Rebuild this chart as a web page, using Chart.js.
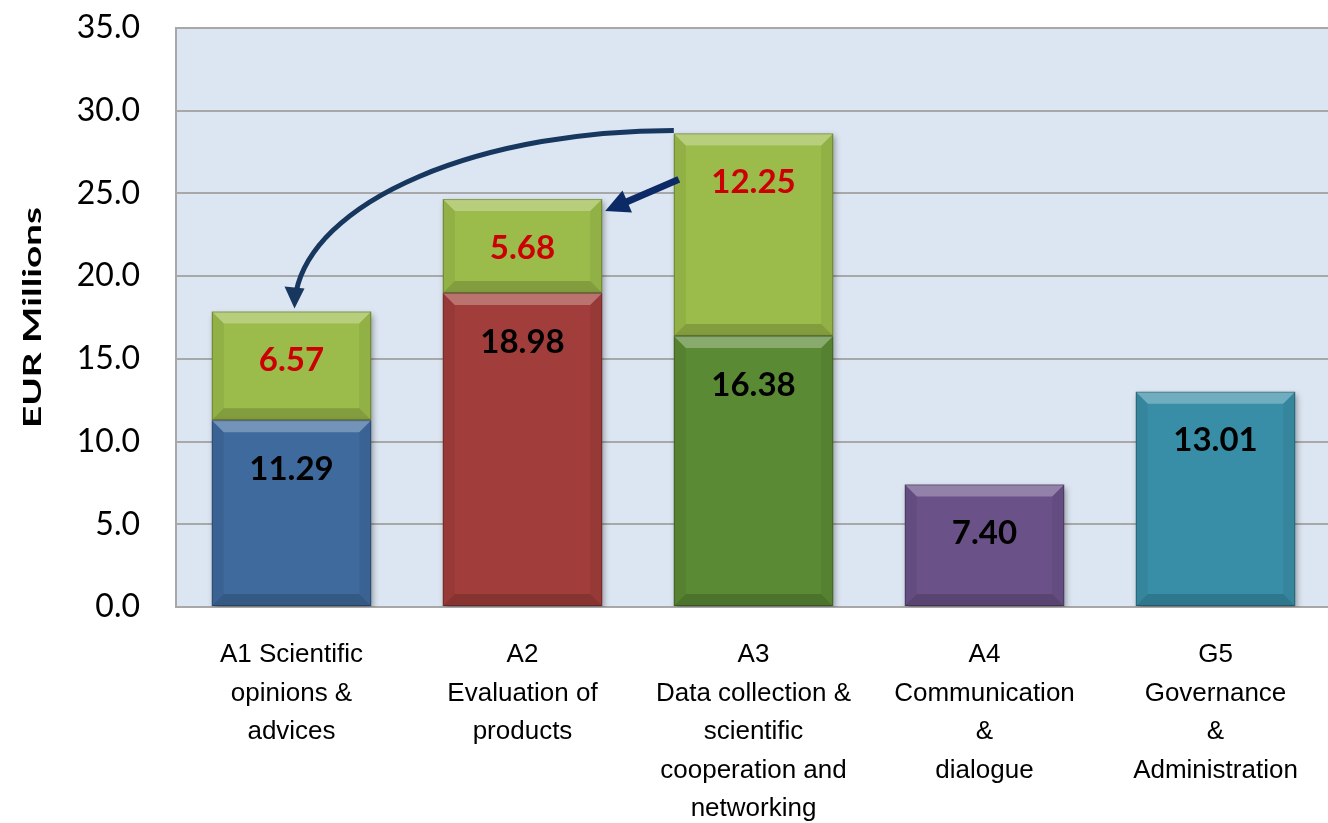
<!DOCTYPE html>
<html>
<head>
<meta charset="utf-8">
<script src="https://cdn.jsdelivr.net/npm/chart.js@4/dist/chart.umd.min.js"></script>
<style>
html,body{margin:0;padding:0;background:#fff;overflow:hidden;}
#wrap{width:1332px;height:823px;}
</style>
</head>
<body>
<div id="wrap"><canvas id="c" width="1332" height="823"></canvas></div>
<script>
// ---- data ----
const categories = [
  ["A1 Scientific","opinions &","advices"],
  ["A2","Evaluation of","products"],
  ["A3","Data collection &","scientific","cooperation and","networking"],
  ["A4","Communication","&","dialogue"],
  ["G5","Governance","&","Administration"]
];
const baseValues  = [11.29, 18.98, 16.38, 7.40, 13.01];
const addedValues = [6.57, 5.68, 12.25, null, null];
const yMin = 0, yMax = 35, yStep = 5;
const yTitle = "EUR Millions";

// ---- styles ----
const baseColors  = ["#3e6a9d", "#a13d3a", "#5b8a34", "#6a5188", "#398ea7"];
const addedColor  = "#9bbb4a";
const plotBg = "#dce6f2";
const gridColor = "#a8a8a8";
const arrowColor = "#17375e";

const bgPlugin = {
  id: 'bg',
  beforeDraw(chart) {
    const {ctx, chartArea: a} = chart;
    ctx.save();
    ctx.fillStyle = plotBg;
    ctx.fillRect(a.left, a.top, a.right - a.left, a.bottom - a.top);
    ctx.restore();
  }
};

const shadowPlugin = {
  id: 'shadow',
  beforeDatasetsDraw(chart) {
    const ctx = chart.ctx;
    ctx.save();
    ctx.shadowColor = 'rgba(0,0,0,0.35)';
    ctx.shadowBlur = 6;
    ctx.shadowOffsetX = 2;
    ctx.shadowOffsetY = 3;
  },
  afterDatasetsDraw(chart) {
    chart.ctx.restore();
  }
};

function bevel(ctx, el) {
  const l = el.x - el.width / 2, r = el.x + el.width / 2;
  const t = Math.min(el.y, el.base), b = Math.max(el.y, el.base);
  const bw = Math.min(12, (b - t) / 3);
  ctx.save();
  ctx.fillStyle = 'rgba(255,255,255,0.28)';
  ctx.beginPath(); ctx.moveTo(l, t); ctx.lineTo(r, t); ctx.lineTo(r - bw, t + bw); ctx.lineTo(l + bw, t + bw); ctx.closePath(); ctx.fill();
  ctx.fillStyle = 'rgba(0,0,0,0.16)';
  ctx.beginPath(); ctx.moveTo(l, b); ctx.lineTo(r, b); ctx.lineTo(r - bw, b - bw); ctx.lineTo(l + bw, b - bw); ctx.closePath(); ctx.fill();
  ctx.fillStyle = 'rgba(0,0,0,0.06)';
  ctx.beginPath(); ctx.moveTo(l, t); ctx.lineTo(l + bw, t + bw); ctx.lineTo(l + bw, b - bw); ctx.lineTo(l, b); ctx.closePath(); ctx.fill();
  ctx.beginPath(); ctx.moveTo(r, t); ctx.lineTo(r - bw, t + bw); ctx.lineTo(r - bw, b - bw); ctx.lineTo(r, b); ctx.closePath(); ctx.fill();
  ctx.strokeStyle = 'rgba(0,0,0,0.25)';
  ctx.lineWidth = 1;
  ctx.strokeRect(l + 0.5, t + 0.5, r - l - 1, b - t - 1);
  ctx.restore();
}

const decoPlugin = {
  id: 'deco',
  afterDatasetsDraw(chart) {
    const ctx = chart.ctx;
    chart.data.datasets.forEach((ds, di) => {
      const meta = chart.getDatasetMeta(di);
      meta.data.forEach((el, i) => {
        const v = ds.data[i];
        if (v == null) return;
        bevel(ctx, el);
        ctx.save();
        ctx.font = 'bold 33px Lato';
        ctx.textAlign = 'center';
        ctx.textBaseline = 'middle';
        ctx.fillStyle = di === 0 ? '#000000' : '#cc0000';
        ctx.fillText(v.toFixed(2), el.x, Math.min(el.y, el.base) + 49);
        ctx.restore();
      });
    });
    // arrows (annotations), placed relative to bar elements
    const top = chart.getDatasetMeta(1).data;
    const a1 = top[0], a2 = top[1], a3 = top[2];
    const a3left = a3.x - a3.width / 2;
    const a2right = a2.x + a2.width / 2;
    ctx.save();
    ctx.strokeStyle = arrowColor;
    ctx.fillStyle = arrowColor;
    // curved arrow A3 -> A1 (quarter ellipse)
    const tipX = a1.x + 3, tipY = a1.y - 3;
    const cx = a3left, cy = tipY;
    const rx = cx - tipX, ry = cy - (a3.y - 3);
    const stop = 17;
    ctx.lineWidth = 5;
    ctx.beginPath();
    ctx.ellipse(cx, cy, rx, ry, 0, -Math.PI / 2, -Math.PI + Math.asin(stop / ry), true);
    ctx.stroke();
    ctx.beginPath();
    ctx.moveTo(tipX, tipY);
    ctx.lineTo(tipX - 10, tipY - 22);
    ctx.lineTo(tipX + 10, tipY - 20);
    ctx.closePath();
    ctx.fill();
    // straight arrow A3 -> A2
    const sx = a3left + 5, sy = a3.y + 46;
    const ex = a2right + 3, ey = a2.y + 12;
    const dx = ex - sx, dy = ey - sy, len = Math.hypot(dx, dy);
    const ux = dx / len, uy = dy / len;
    ctx.strokeStyle = '#0c2a66';
    ctx.fillStyle = '#0c2a66';
    ctx.lineWidth = 7;
    ctx.beginPath();
    ctx.moveTo(sx, sy);
    ctx.lineTo(ex - ux * 18, ey - uy * 18);
    ctx.stroke();
    ctx.beginPath();
    ctx.moveTo(ex, ey);
    ctx.lineTo(ex - ux * 24 - uy * 12, ey - uy * 24 + ux * 12);
    ctx.lineTo(ex - ux * 24 + uy * 12, ey - uy * 24 - ux * 12);
    ctx.closePath();
    ctx.fill();
    ctx.restore();

    // y-axis title (stretched along its length like the original)
    const a = chart.chartArea;
    ctx.save();
    ctx.translate(33, (a.top + a.bottom) / 2);
    ctx.rotate(-Math.PI / 2);
    ctx.font = 'bold 24px Lato';
    const w = ctx.measureText(yTitle).width;
    ctx.scale(221 / w, 1);
    ctx.textAlign = 'center';
    ctx.textBaseline = 'middle';
    ctx.fillStyle = '#000';
    ctx.fillText(yTitle, 0, 0);
    ctx.restore();
  }
};

new Chart(document.getElementById('c'), {
  type: 'bar',
  data: {
    labels: categories,
    datasets: [
      { data: baseValues, backgroundColor: baseColors, borderWidth: 0 },
      { data: addedValues, backgroundColor: addedColor, borderWidth: 0 }
    ]
  },
  options: {
    responsive: false,
    devicePixelRatio: 1,
    animation: false,
    layout: { padding: { top: 28, left: 0, right: 1, bottom: 0 } },
    plugins: { legend: { display: false }, tooltip: { enabled: false } },
    datasets: { bar: { categoryPercentage: 1, barPercentage: 0.69 } },
    scales: {
      x: {
        stacked: true,
        grid: { display: false, drawTicks: false },
        border: { display: true, color: gridColor, width: 2 },
        ticks: {
          autoSkip: false, maxRotation: 0, minRotation: 0, padding: 29,
          color: '#000', font: { family: "'Liberation Sans', Arial", size: 26, lineHeight: 1.48 }
        },
        afterFit(s) { s.height = 216; s.paddingLeft = 0; s.paddingRight = 0; }
      },
      y: {
        stacked: true,
        min: yMin, max: yMax,
        grid: { color: gridColor, lineWidth: 2, drawTicks: false },
        border: { display: true, color: gridColor, width: 2 },
        ticks: {
          stepSize: yStep, padding: 36, color: '#000',
          font: { family: 'Lato', size: 32 },
          callback: v => Number(v).toFixed(1)
        },
        title: { display: false },
        afterFit(s) { s.width = 176; s.paddingTop = 0; s.paddingBottom = 0; }
      }
    }
  },
  plugins: [bgPlugin, shadowPlugin, decoPlugin]
});
</script>
</body>
</html>
